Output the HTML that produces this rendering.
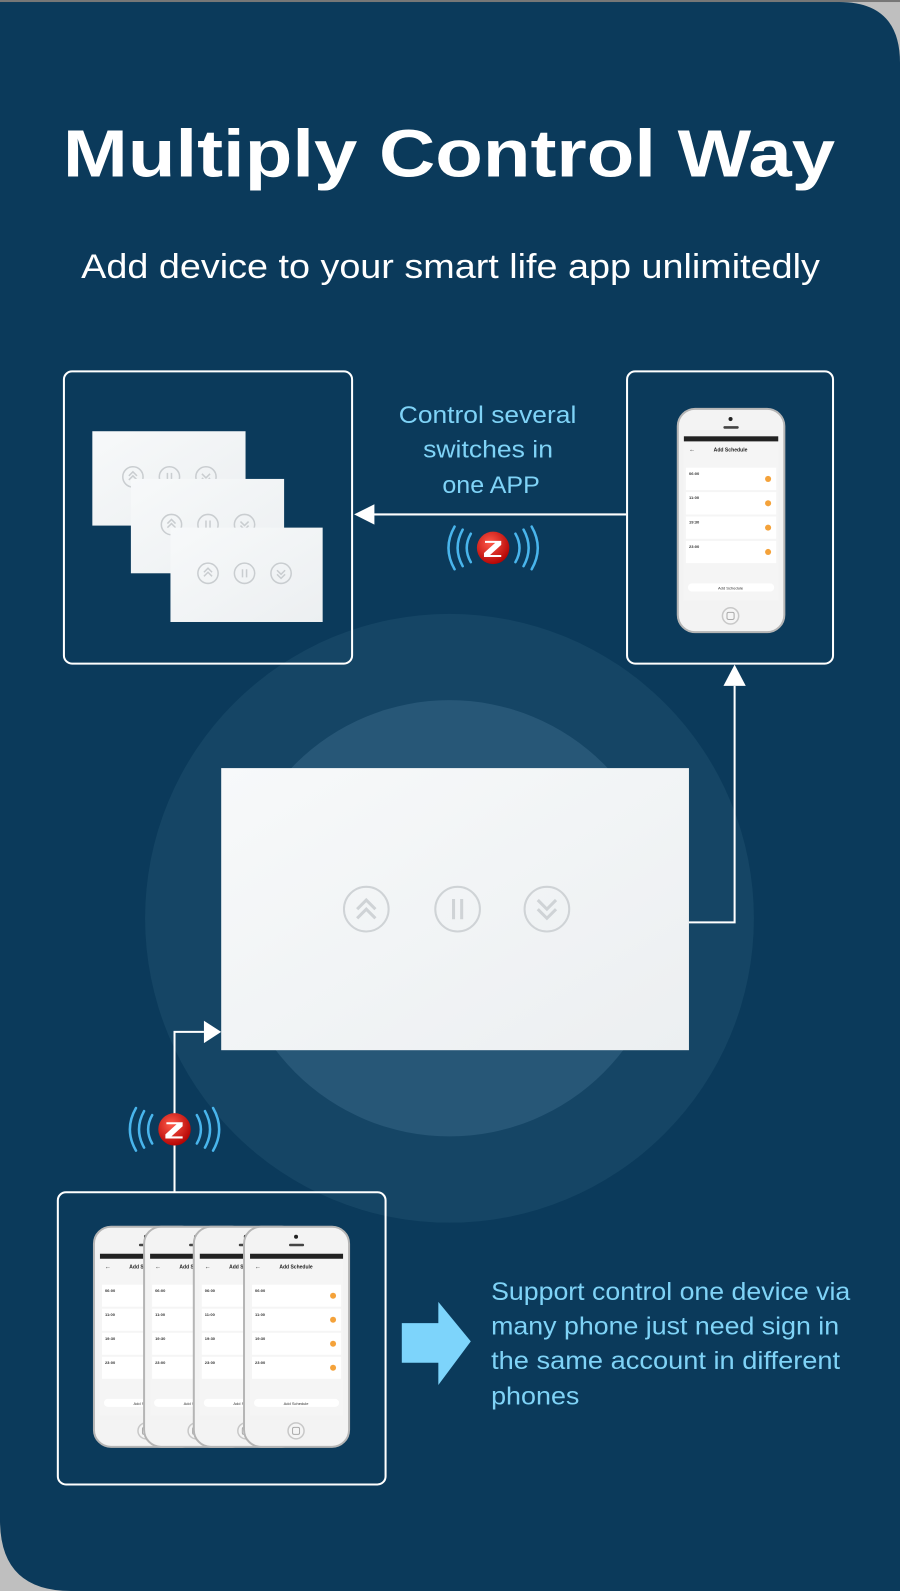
<!DOCTYPE html>
<html><head><meta charset="utf-8"><style>
html,body{margin:0;padding:0;width:900px;height:1591px;overflow:hidden;background:#bfbfbf;}
svg{display:block}
</style></head><body>
<svg width="900" height="1591" viewBox="0 0 887 1568" preserveAspectRatio="none" xmlns="http://www.w3.org/2000/svg" font-family="Liberation Sans, sans-serif">
<defs>
<radialGradient id="zg" cx="40%" cy="35%" r="70%"><stop offset="0" stop-color="#ff5a4a"/><stop offset="1" stop-color="#b00000"/></radialGradient>
<linearGradient id="sw" x1="0" y1="0" x2="1" y2="1"><stop offset="0" stop-color="#f7f9fa"/><stop offset="1" stop-color="#eceff1"/></linearGradient>
<g id="phone">
<rect x="0" y="0" width="105" height="220" rx="17" fill="#f3f3f3" stroke="#b5b5b5" stroke-width="2"/>
<circle cx="52" cy="10" r="2" fill="#222"/>
<rect x="45" y="17" width="15" height="2.5" rx="1" fill="#444"/>
<rect x="6" y="27" width="93" height="162" fill="#f5f5f5"/>
<rect x="6" y="27" width="93" height="5" fill="#222"/>
<text x="52" y="42" font-size="5" font-weight="bold" text-anchor="middle" fill="#222">Add Schedule</text>
<text x="11" y="42" font-size="6" fill="#333">←</text>
<rect x="8" y="58" width="89" height="22" fill="#fff"/>
<rect x="8" y="82" width="89" height="22" fill="#fff"/>
<rect x="8" y="106" width="89" height="22" fill="#fff"/>
<rect x="8" y="130" width="89" height="22" fill="#fff"/>
<text x="11" y="65" font-size="4" font-weight="bold" fill="#333">06:00</text>
<text x="11" y="89" font-size="4" font-weight="bold" fill="#333">11:00</text>
<text x="11" y="113" font-size="4" font-weight="bold" fill="#333">19:30</text>
<text x="11" y="137" font-size="4" font-weight="bold" fill="#333">23:00</text>
<g fill="#f4a23a"><circle cx="89" cy="69" r="3"/><circle cx="89" cy="93" r="3"/><circle cx="89" cy="117" r="3"/><circle cx="89" cy="141" r="3"/></g>
<rect x="10" y="172" width="85" height="8" rx="4" fill="#fff"/>
<text x="52" y="178" font-size="4" text-anchor="middle" fill="#333">Add Schedule</text>
<circle cx="52" cy="204" r="8" fill="#f5f5f5" stroke="#c8c8c8" stroke-width="1.5"/>
<rect x="48.5" y="200.5" width="7" height="7" rx="1.5" fill="none" stroke="#aaa"/>
</g>
<g id="zig">
<g fill="none" stroke="#49b5ec" stroke-width="2.5" stroke-linecap="round">
<path d="M-22,-14 Q-30,0 -22,14"/><path d="M-30,-18 Q-40,0 -30,18"/><path d="M-38,-21 Q-50,0 -38,21"/>
<path d="M22,-14 Q30,0 22,14"/><path d="M30,-18 Q40,0 30,18"/><path d="M38,-21 Q50,0 38,21"/>
</g>
<circle r="16" fill="url(#zg)"/>
<path d="M-8,-7 L8,-7 L8,-3 L-3,7 L8,7 L8,9 L-9,9 L-9,5 L2,-5 L-8,-5 Z" fill="#fff"/>
</g>
<g id="btns" fill="none" stroke="#c9cdd0" stroke-width="1.5">
<circle cx="0" cy="0" r="10"/><circle cx="36" cy="0" r="10"/><circle cx="72" cy="0" r="10"/>
<path d="M-4,-1 L0,-5 L4,-1 M-4,3 L0,-1 L4,3"/><path d="M34,-4 V4 M38,-4 V4"/><path d="M68,-3 L72,1 L76,-3 M68,1 L72,5 L76,1"/>
</g>
</defs>
<path d="M0,2 H827 Q887,2 887,62 V1568 H70 Q0,1568 0,1498 Z" fill="#0b3a5b"/>
<rect x="0" y="0" width="887" height="2" fill="#777"/>
<circle cx="443" cy="905" r="300" fill="#164766" opacity="0.9"/>
<circle cx="443" cy="905" r="215" fill="#2a5a7a" opacity="0.85"/>
<text x="62" y="174" font-size="66" font-weight="bold" fill="#fff" textLength="761" lengthAdjust="spacingAndGlyphs">Multiply Control Way</text>
<text x="80" y="274" font-size="34" fill="#fff" textLength="728" lengthAdjust="spacingAndGlyphs">Add device to your smart life app unlimitedly</text>
<rect x="63" y="366" width="284" height="288" rx="8" fill="none" stroke="#fff" stroke-width="2"/>
<rect x="618" y="366" width="203" height="288" rx="8" fill="none" stroke="#fff" stroke-width="2"/>
<rect x="57" y="1175" width="323" height="288" rx="8" fill="none" stroke="#fff" stroke-width="2"/>
<rect x="91" y="425" width="151" height="93" fill="url(#sw)"/>
<use href="#btns" x="131" y="470"/>
<rect x="129" y="472" width="151" height="93" fill="url(#sw)"/>
<use href="#btns" x="169" y="517"/>
<rect x="168" y="520" width="150" height="93" fill="url(#sw)"/>
<use href="#btns" x="205" y="565"/>
<use href="#phone" x="668" y="403"/>
<g font-size="24" fill="#7fd3f7">
<text x="393" y="417" textLength="175" lengthAdjust="spacingAndGlyphs">Control several</text>
<text x="417" y="451" textLength="128" lengthAdjust="spacingAndGlyphs">switches in</text>
<text x="436" y="486" textLength="96" lengthAdjust="spacingAndGlyphs">one APP</text>
</g>
<line x1="617" y1="507" x2="366" y2="507" stroke="#fff" stroke-width="2"/>
<path d="M349,507 L369,497 L369,517 Z" fill="#fff"/>
<use href="#zig" x="486" y="540"/>
<rect x="218" y="757" width="461" height="278" fill="url(#sw)"/>
<g fill="none" stroke="#cfd3d6" stroke-width="2">
<circle cx="361" cy="896" r="22"/><circle cx="451" cy="896" r="22"/><circle cx="539" cy="896" r="22"/>
<path d="M352,896 L361,887 L370,896 M352,905 L361,896 L370,905" stroke-width="3"/>
<path d="M447,886 V906 M455,886 V906" stroke-width="3"/>
<path d="M530,887 L539,896 L548,887 M530,896 L539,905 L548,896" stroke-width="3"/>
</g>
<polyline points="679,909 724,909 724,676" fill="none" stroke="#fff" stroke-width="2"/>
<path d="M724,655 L713,676 L735,676 Z" fill="#fff"/>
<polyline points="172,1175 172,1017 201,1017" fill="none" stroke="#fff" stroke-width="2"/>
<path d="M218,1017 L201,1006 L201,1028 Z" fill="#fff"/>
<use href="#zig" x="172" y="1113"/>
<use href="#phone" transform="translate(92.6,1209) scale(0.986)"/>
<use href="#phone" transform="translate(142,1209) scale(0.986)"/>
<use href="#phone" transform="translate(191,1209) scale(0.986)"/>
<use href="#phone" transform="translate(240.5,1209) scale(0.986)"/>
<path d="M396,1304 H432 V1283 L464,1322 L432,1365 V1343 H396 Z" fill="#7dd4fb"/>
<g font-size="25" fill="#7fd3f7">
<text x="484" y="1281" textLength="354" lengthAdjust="spacingAndGlyphs">Support control one device via</text>
<text x="484" y="1315" textLength="343" lengthAdjust="spacingAndGlyphs">many phone just need sign in</text>
<text x="484" y="1349" textLength="344" lengthAdjust="spacingAndGlyphs">the same account in different</text>
<text x="484" y="1384" textLength="87" lengthAdjust="spacingAndGlyphs">phones</text>
</g>
</svg>
</body></html>
